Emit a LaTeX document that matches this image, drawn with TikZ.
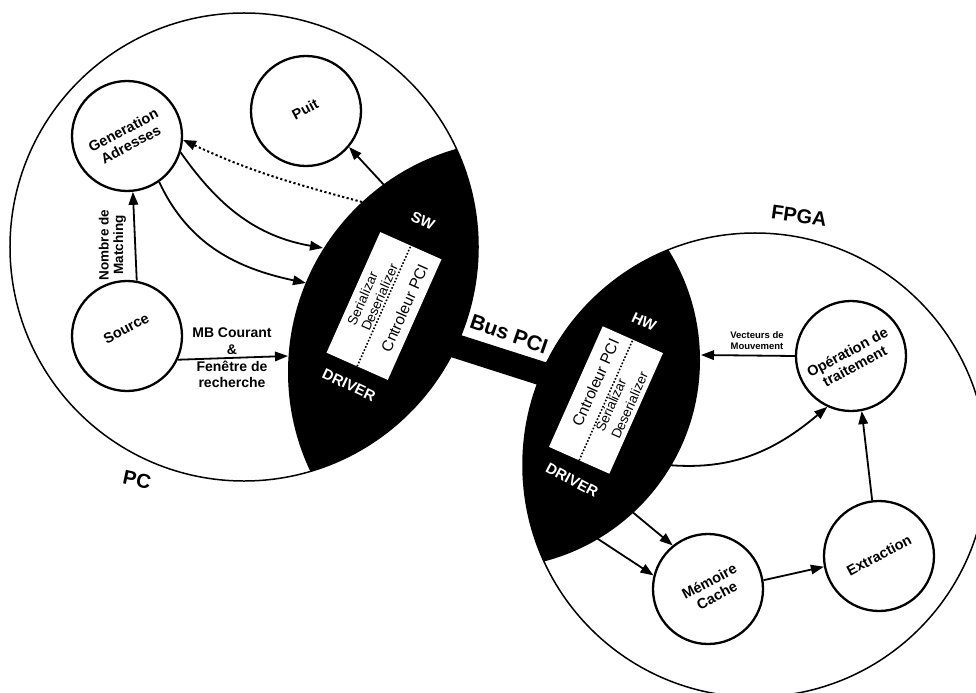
\documentclass[tikz,border=0pt]{standalone}
\usepackage{fontspec}
\usepackage{graphicx}
\setmainfont{Liberation Sans}
\usetikzlibrary{arrows.meta}
\newcommand{\rotlbl}[2][28]{\rotatebox{#1}{\begin{tabular}{@{}c@{}}#2\end{tabular}}}
\begin{document}
\begin{tikzpicture}[x=1bp,y=1bp,
  bigc/.style={draw, circle, line width=1.5bp, inner sep=0pt},
  circ/.style={draw, circle, line width=2.3bp, minimum size=110bp, inner sep=0pt},
  ntext/.style={font=\bfseries\fontsize{14.5bp}{16bp}\selectfont, inner sep=0pt},
  lbl/.style={font=\bfseries\fontsize{14bp}{16.7bp}\selectfont, align=center, inner sep=0pt},
  arr/.style={line width=1.8bp, -{Triangle[length=13bp,width=9.5bp]}},
  wtext/.style={text=white, font=\bfseries\fontsize{15bp}{17bp}\selectfont, inner sep=0pt},
  intext/.style={font=\fontsize{13.5bp}{15bp}\selectfont, inner sep=0pt},
  ctext/.style={font=\fontsize{15.5bp}{17bp}\selectfont, inner sep=0pt},
  dotl/.style={line width=1.6bp, dash pattern=on 1.6bp off 1.8bp},
  big/.style={font=\bfseries\fontsize{20bp}{22bp}\selectfont, inner sep=0pt}
]
\useasboundingbox (0,0) rectangle (976,-693);

% outer circles
\node[bigc, minimum size=468bp] (pc) at (244,-247) {};
\node[bigc, minimum size=464bp] (fpga) at (755,-465) {};

% black lenses
\begin{scope}
  \clip (244,-247) circle (234bp);
  \fill (520,-372) circle (232bp);
\end{scope}
\begin{scope}
  \clip (755,-465) circle (232bp);
  \fill (492,-360) circle (208bp);
\end{scope}

% bus bar
\coordinate (busa) at (440,-341);
\coordinate (busb) at (565,-381);
\draw[line width=24bp] (busa) -- (busb);
\node[big, font=\bfseries\fontsize{21bp}{23bp}\selectfont] (bus) at (509,-334) {\rotatebox{-19}{Bus PCI}};

% left inner rectangle
\begin{scope}[shift={(384,-306)}, rotate=66]
  \fill[white] (-66,-33.5) rectangle (66,33.5);
  \draw[dotl] (-66,0) -- (66,0);
  \node[intext] (ser1) at (-2,22.7) {\rotatebox{66}{Serializar}};
  \node[intext] (des1) at (6,7.6) {\rotatebox{66}{Deserializer}};
  \node[ctext] (cpci1) at (6.5,-19.5) {\rotatebox{66}{Cntroleur PCI}};
\end{scope}
% right inner rectangle
\begin{scope}[shift={(606,-400)}, rotate=66]
  \fill[white] (-66,-33) rectangle (66,33);
  \draw[dotl] (-66,0) -- (66,0);
  \node[ctext] (cpci2) at (11.7,16.7) {\rotatebox{66}{Cntroleur PCI}};
  \node[intext] (ser2) at (-2.6,-6.6) {\rotatebox{66}{Serializar}};
  \node[intext] (des2) at (4.6,-23.7) {\rotatebox{66}{Deserializer}};
\end{scope}

\node[wtext] (sw) at (423,-221) {\rotatebox{-25}{SW}};
\node[wtext] (hw) at (644,-322) {\rotatebox{-25}{HW}};
\node[wtext] (drv1) at (349,-385) {\rotatebox{-25}{DRIVER}};
\node[wtext] (drv2) at (572,-480) {\rotatebox{-28}{DRIVER}};

% labels
\node[big] (pcl) at (137,-480) {\rotatebox{-12}{PC}};
\node[big] (fpgal) at (799,-216) {\rotatebox{-8}{FPGA}};

% process circles
\node[circ] (gen) at (127,-136) {};
\node[circ] (puit) at (306,-111) {};
\node[circ] (src) at (127,-336) {};
\node[circ] (op) at (851,-356) {};
\node[circ] (ext) at (879,-556) {};
\node[circ] (mem) at (708,-589) {};

\node[ntext] (gent) at (128,-139) {\rotlbl{Generation\\Adresses}};
\node[ntext] (puitt) at (306,-111) {\rotlbl{Puit}};
\node[ntext] (srct) at (127,-330) {\rotlbl{Source}};
\node[ntext, font=\bfseries\fontsize{14.5bp}{15.5bp}\selectfont] (opt) at (852,-361) {\rotlbl{Opération de\\traitement}};
\node[ntext] (extt) at (880,-557) {\rotlbl{Extraction}};
\node[ntext] (memt) at (714,-590) {\rotlbl{Mémoire\\Cache}};

% lens edge points
\coordinate (lsin1) at (323,-248);
\coordinate (lsin2) at (306,-283);
\coordinate (lsin3) at (288,-356);
\coordinate (lsdot) at (362,-202);
\coordinate (lsput) at (385,-186);
\coordinate (rvec) at (701,-355);
\coordinate (rop) at (668,-465);
\coordinate (rm1) at (630,-510);
\coordinate (rm2) at (595,-537);

% left connectors
\draw[arr] (src.80) -- (gen.-84);
\node[lbl, font=\bfseries\fontsize{13.5bp}{14.5bp}\selectfont] (nmt) at (113,-245) {\rotatebox{90}{\begin{tabular}{@{}c@{}}Nombre de\\Matching\end{tabular}}};
\draw[arr] (src.-25) -- (lsin3);
\node[lbl] (mbt) at (232,-358) {MB Courant\\\&\\Fenêtre de\\recherche};
\draw[arr] (gen.-17) to[out=-55, in=170] (lsin1);
\draw[arr] (gen.-55) to[out=-65, in=168] (lsin2);
\draw[arr, line width=2bp, dash pattern=on 2.2bp off 2.4bp] (lsdot) to[out=165, in=-25] (gen.-4);
\draw[arr] (lsput) -- (puit.-40);

% right connectors
\draw[arr] (op.180) -- (rvec);
\node[font=\bfseries\fontsize{9.5bp}{11bp}\selectfont, align=center, inner sep=0pt] (vec) at (757,-341) {Vecteurs de\\Mouvement};
\draw[arr] (rop) to[out=-5, in=-140] (op.-115);
\draw[arr] (ext.97) -- (op.-79);
\draw[arr] (mem.9) -- (ext.-169);
\draw[arr] (rm1) -- (mem.129);
\draw[arr] (rm2) -- (mem.166);
\end{tikzpicture}
\end{document}
